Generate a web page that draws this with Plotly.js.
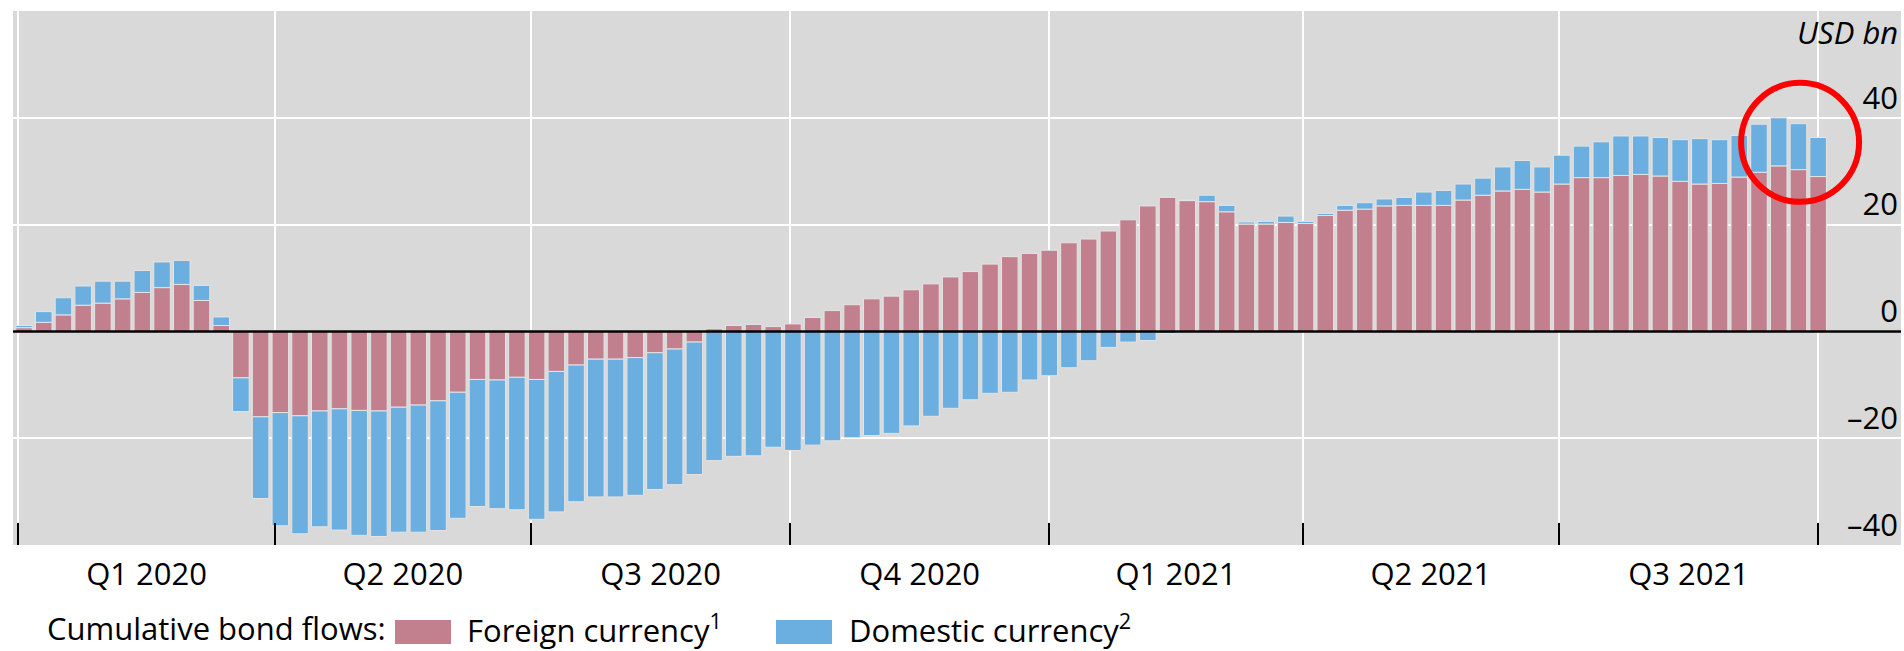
<!DOCTYPE html>
<html>
<head>
<meta charset="utf-8">
<script src="https://cdn.plot.ly/plotly-3.0.1.min.js"></script>
<style>html,body{margin:0;padding:0;background:#fff;}</style>
</head>
<body>
<div id="chart" style="width:1904px;height:651px;"></div>
<script>
// Weekly observation dates (Fridays)
const weekDates = [
 '2020-01-03','2020-01-10','2020-01-17','2020-01-24','2020-01-31',
 '2020-02-07','2020-02-14','2020-02-21','2020-02-28',
 '2020-03-06','2020-03-13','2020-03-20','2020-03-27',
 '2020-04-03','2020-04-10','2020-04-17','2020-04-24',
 '2020-05-01','2020-05-08','2020-05-15','2020-05-22','2020-05-29',
 '2020-06-05','2020-06-12','2020-06-19','2020-06-26',
 '2020-07-03','2020-07-10','2020-07-17','2020-07-24','2020-07-31',
 '2020-08-07','2020-08-14','2020-08-21','2020-08-28',
 '2020-09-04','2020-09-11','2020-09-18','2020-09-25',
 '2020-10-02','2020-10-09','2020-10-16','2020-10-23','2020-10-30',
 '2020-11-06','2020-11-13','2020-11-20','2020-11-27',
 '2020-12-04','2020-12-11','2020-12-18','2020-12-25',
 '2021-01-01','2021-01-08','2021-01-15','2021-01-22','2021-01-29',
 '2021-02-05','2021-02-12','2021-02-19','2021-02-26',
 '2021-03-05','2021-03-12','2021-03-19','2021-03-26',
 '2021-04-02','2021-04-09','2021-04-16','2021-04-23','2021-04-30',
 '2021-05-07','2021-05-14','2021-05-21','2021-05-28',
 '2021-06-04','2021-06-11','2021-06-18','2021-06-25',
 '2021-07-02','2021-07-09','2021-07-16','2021-07-23','2021-07-30',
 '2021-08-06','2021-08-13','2021-08-20','2021-08-27',
 '2021-09-03','2021-09-10','2021-09-17','2021-09-24',
 '2021-10-01'
];

// Cumulative bond flows, USD bn
const foreignCurrency = [
 0.7, 1.7, 3.1, 4.9, 5.3, 6.1, 7.3, 8.2, 8.8, 5.8, 1.1,
 -8.7, -16.0, -15.2, -15.8, -14.9, -14.5, -14.8, -14.9, -14.2, -13.8, -13.0,
 -11.4, -9.0, -9.1, -8.6, -9.0, -7.5, -6.3, -5.2, -5.2, -4.9, -4.0,
 -3.3, -2.0, 0.5, 1.1, 1.3, 0.9, 1.4, 2.6, 3.9, 5.0, 6.1,
 6.6, 7.8, 8.9, 10.2, 11.2, 12.6, 14.0, 14.6, 15.2, 16.6, 17.3,
 18.8, 20.9, 23.5, 25.1, 24.5, 24.3, 22.4, 20.1, 20.1, 20.4, 20.2,
 21.7, 22.7, 22.9, 23.5, 23.6, 23.6, 23.6, 24.6, 25.5, 26.3, 26.6,
 26.1, 27.6, 28.8, 28.8, 29.2, 29.4, 29.1, 28.1, 27.6, 27.7, 28.9,
 29.8, 31.0, 30.3, 29.0
];
const domesticCurrency = [
 0.4, 2.0, 3.2, 3.6, 4.1, 3.3, 4.1, 4.8, 4.5, 2.8, 1.6,
 -6.3, -15.3, -21.2, -22.1, -21.7, -22.7, -23.4, -23.5, -23.4, -23.8, -24.3,
 -23.6, -23.8, -24.1, -24.8, -26.2, -26.3, -25.6, -25.8, -25.8, -25.8, -25.6,
 -25.4, -24.8, -24.2, -23.4, -23.3, -21.7, -22.3, -21.3, -20.5, -19.9, -19.5,
 -19.1, -17.7, -15.9, -14.4, -12.8, -11.6, -11.4, -9.1, -8.3, -6.8, -5.5,
 -3.0, -2.0, -1.7, -0.4, 0.1, 1.2, 1.2, 0.4, 0.5, 1.2, 0.4,
 0.4, 0.9, 1.2, 1.3, 1.5, 2.5, 2.8, 3.0, 3.2, 4.5, 5.4,
 4.7, 5.4, 5.9, 6.7, 7.4, 7.2, 7.2, 7.8, 8.5, 8.2, 7.8,
 9.0, 9.0, 8.6, 7.3
];

// Axis ticks and labels
const quarterStarts = ['2020-01-01','2020-04-01','2020-07-01','2020-10-01',
                       '2021-01-01','2021-04-01','2021-07-01','2021-10-01'];
const quarterLabels = ['Q1 2020','Q2 2020','Q3 2020','Q4 2020','Q1 2021','Q2 2021','Q3 2021'];
const yTickVals = [-40, -20, 0, 20, 40];
const yTickText = ['\u201340', '\u201320', '0', '20', '40'];
const seriesNames = ['Foreign currency<sup>1</sup>', 'Domestic currency<sup>2</sup>'];
const legendTitle = 'Cumulative bond flows:';
const unitLabel = 'USD bn';

// Highlight circle (around the latest weeks)
const highlightCentre = {x: '2021-09-24 14:00', y: 35.4};

// Styles
const FONT = '"Open Sans", "Noto Sans", sans-serif';
const COL_FOREIGN = '#C2808E';
const COL_DOMESTIC = '#6BAEE0';
const COL_BG = '#D9D9D9';
const W = 1904, H = 651;
const M = {l: 13, r: 3, t: 11, b: 106};
const xRange = ['2019-12-30 02:00', '2021-10-30 10:00'];

const toMs = d => Date.parse(d + 'T00:00:00Z');
const isoDate = ms => new Date(ms).toISOString().slice(0, 19).replace('T', ' ');
const quarterMids = quarterLabels.map((_, i) => isoDate((toMs(quarterStarts[i]) + toMs(quarterStarts[i + 1])) / 2));

const plotH = H - M.t - M.b, plotW = W - M.l - M.r;
const px = x => (x - M.l) / plotW;
const py = y => (H - M.b - y) / plotH;

const barLine = {color: '#E4E4E4', width: 1};
const traces = [
  {type: 'bar', x: weekDates, y: foreignCurrency, name: seriesNames[0],
   marker: {color: COL_FOREIGN, line: barLine}, hoverinfo: 'x+y+name'},
  {type: 'bar', x: weekDates, y: domesticCurrency, name: seriesNames[1],
   marker: {color: COL_DOMESTIC, line: barLine}, hoverinfo: 'x+y+name'},
  // carrier for the quarter label axis (no visible marks)
  {type: 'scatter', mode: 'markers', x: quarterMids, y: quarterMids.map(() => null),
   xaxis: 'x2', yaxis: 'y', marker: {opacity: 0}, hoverinfo: 'skip', showlegend: false}
];

// Custom legend placement (pixels)
const legendTextY = 628;
const legendSwY0 = 620, legendSwY1 = 644;
const legendItems = [
  {sw0: 395, sw1: 451, tx: 465, col: COL_FOREIGN, text: seriesNames[0]},
  {sw0: 776, sw1: 832, tx: 847, col: COL_DOMESTIC, text: seriesNames[1]}
];

const shapes = [
  // zero line drawn above the bars
  {type: 'line', xref: 'paper', yref: 'y', x0: 0, x1: 1, y0: 0, y1: 0,
   line: {color: '#000', width: 2.5}, layer: 'above'},
  {type: 'circle', xref: 'x', yref: 'y', xsizemode: 'pixel', ysizemode: 'pixel',
   xanchor: highlightCentre.x, yanchor: highlightCentre.y,
   x0: -59, x1: 59, y0: -59.5, y1: 59.5,
   line: {color: '#FF0000', width: 6}, fillcolor: 'rgba(0,0,0,0)', layer: 'above'}
];
legendItems.forEach(it => shapes.push({
  type: 'rect', xref: 'paper', yref: 'paper',
  x0: px(it.sw0), x1: px(it.sw1), y0: py(legendSwY1), y1: py(legendSwY0),
  fillcolor: it.col, line: {width: 0}
}));

const annotations = [
  {xref: 'paper', yref: 'paper', x: 1, y: py(32), xanchor: 'right', yanchor: 'middle',
   xshift: -1, text: '<i>' + unitLabel + '</i>', showarrow: false,
   font: {family: FONT, size: 31, color: '#000'}},
  {xref: 'paper', yref: 'paper', x: px(45), y: py(legendTextY), xanchor: 'left', yanchor: 'middle',
   text: legendTitle, showarrow: false, font: {family: FONT, size: 31, color: '#000'}}
];
legendItems.forEach(it => annotations.push({
  xref: 'paper', yref: 'paper', x: px(it.tx), y: py(legendTextY), xanchor: 'left', yanchor: 'middle',
  text: it.text, showarrow: false, font: {family: FONT, size: 31, color: '#000'}
}));

const layout = {
  width: W, height: H,
  margin: M,
  paper_bgcolor: '#FFFFFF',
  plot_bgcolor: COL_BG,
  barmode: 'relative',
  bargap: 0.16,
  showlegend: false,
  font: {family: FONT, size: 31, color: '#000'},
  xaxis: {
    type: 'date', range: xRange, fixedrange: true,
    tickmode: 'array', tickvals: quarterStarts,
    showticklabels: false,
    ticks: 'inside', ticklen: 22, tickwidth: 2, tickcolor: '#000',
    showgrid: true, gridcolor: '#FFFFFF', gridwidth: 2,
    zeroline: false, showline: false
  },
  xaxis2: {
    type: 'date', range: xRange, overlaying: 'x', anchor: 'y', side: 'bottom',
    fixedrange: true,
    tickmode: 'array', tickvals: quarterMids, ticktext: quarterLabels,
    ticks: '', showgrid: false, zeroline: false, showline: false,
    ticklabelstandoff: 8,
    tickfont: {family: FONT, size: 31, color: '#000'}
  },
  yaxis: {
    range: [-40, 60], side: 'right', fixedrange: true,
    tickmode: 'array', tickvals: yTickVals, ticktext: yTickText,
    ticklabelposition: 'inside', ticks: '',
    ticklabelshift: -20, ticklabelstandoff: -18.5,
    tickfont: {family: FONT, size: 31, color: '#000'},
    showgrid: true, gridcolor: '#FFFFFF', gridwidth: 2,
    zeroline: false, showline: false
  },
  shapes: shapes,
  annotations: annotations
};

Plotly.newPlot('chart', traces, layout, {displayModeBar: false, staticPlot: true});
</script>
</body>
</html>
